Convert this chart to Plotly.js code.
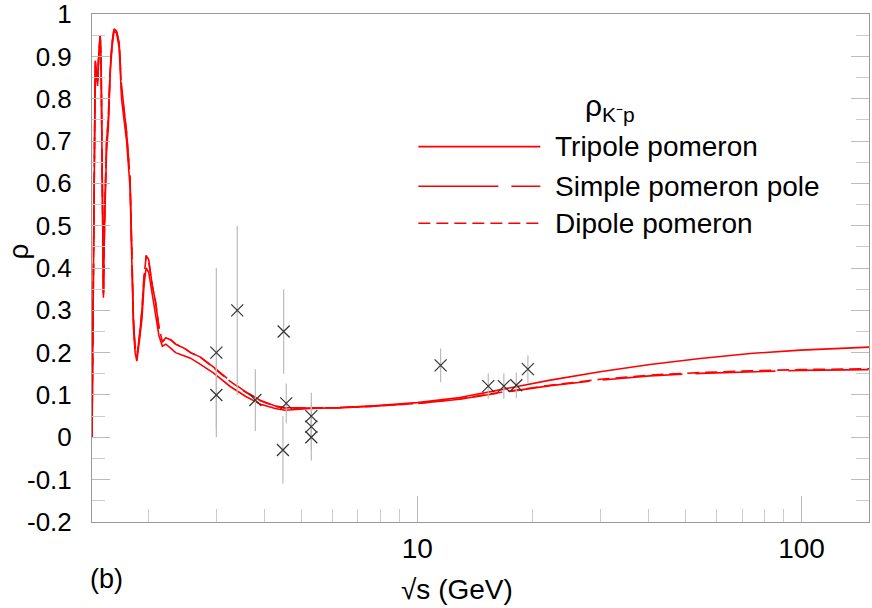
<!DOCTYPE html>
<html>
<head>
<meta charset="utf-8">
<script src="https://cdn.plot.ly/plotly-3.0.1.min.js"></script>
<style>
  body { margin: 0; background: #fff; }
  #plotArea { width: 872px; height: 608px; }
</style>
</head>
<body>
<div id="plotArea"></div>
<script>
// curves, sqrt(s) in GeV
var tripoleX = [1.424, 1.44, 1.452, 1.462, 1.472, 1.48, 1.495, 1.503, 1.512, 1.525, 1.535, 1.554, 1.57, 1.588, 1.605, 1.625, 1.65, 1.676, 1.7, 1.735, 1.752, 1.789, 1.807, 1.825, 1.844, 1.863, 1.893, 1.921, 1.945, 1.969, 2.0, 2.042, 2.084, 2.127, 2.171, 2.216, 2.285, 2.35, 2.48, 2.57, 2.72, 2.94, 3.26, 3.57, 3.91, 4.27, 4.53, 4.8, 5.27, 6.3, 7.55, 10, 12.9, 16.4, 22.2, 29.9, 40.3, 54.5, 73.6, 99.4, 150];
var tripoleY = [0.0, 0.6, 0.88, 0.86, 0.83, 0.88, 0.95, 0.9, 0.6, 0.33, 0.5, 0.68, 0.73, 0.86, 0.92, 0.96, 0.955, 0.92, 0.8, 0.74, 0.7, 0.59, 0.42, 0.26, 0.2, 0.18, 0.23, 0.28, 0.36, 0.4, 0.39, 0.34, 0.3, 0.24, 0.215, 0.22, 0.21, 0.2, 0.192, 0.187, 0.173, 0.153, 0.12, 0.097, 0.078, 0.068, 0.064, 0.066, 0.068, 0.07, 0.074, 0.082, 0.094, 0.112, 0.135, 0.155, 0.172, 0.186, 0.198, 0.206, 0.213];

var poleX = [1.424, 1.44, 1.452, 1.462, 1.472, 1.48, 1.495, 1.503, 1.512, 1.525, 1.535, 1.554, 1.57, 1.588, 1.605, 1.625, 1.65, 1.676, 1.7, 1.735, 1.752, 1.789, 1.807, 1.825, 1.844, 1.863, 1.893, 1.921, 1.945, 1.969, 2.0, 2.042, 2.084, 2.127, 2.171, 2.216, 2.285, 2.35, 2.48, 2.57, 2.72, 2.94, 3.26, 3.57, 3.91, 4.27, 4.53, 4.8, 5.27, 6.3, 7.55, 10, 12.9, 16.4, 22.2, 29.9, 40.3, 54.5, 73.6, 99.4, 150];
var poleY = [0.0, 0.62, 0.89, 0.86, 0.84, 0.89, 0.95, 0.91, 0.62, 0.34, 0.52, 0.7, 0.75, 0.87, 0.93, 0.965, 0.96, 0.93, 0.83, 0.76, 0.72, 0.61, 0.44, 0.28, 0.21, 0.19, 0.24, 0.3, 0.38, 0.43, 0.42, 0.36, 0.32, 0.26, 0.225, 0.235, 0.23, 0.22, 0.21, 0.2, 0.19, 0.167, 0.133, 0.108, 0.087, 0.074, 0.07, 0.069, 0.069, 0.07, 0.073, 0.08, 0.09, 0.105, 0.122, 0.135, 0.145, 0.151, 0.155, 0.158, 0.16];

var dipoleX = [1.424, 1.44, 1.452, 1.462, 1.472, 1.48, 1.495, 1.503, 1.512, 1.525, 1.535, 1.554, 1.57, 1.588, 1.605, 1.625, 1.65, 1.676, 1.7, 1.735, 1.752, 1.789, 1.807, 1.825, 1.844, 1.863, 1.893, 1.921, 1.945, 1.969, 2.0, 2.042, 2.084, 2.127, 2.171, 2.216, 2.285, 2.35, 2.48, 2.57, 2.72, 2.94, 3.26, 3.57, 3.91, 4.27, 4.53, 4.8, 5.27, 6.3, 7.55, 10, 12.9, 16.4, 22.2, 29.9, 40.3, 54.5, 73.6, 99.4, 150];
var dipoleY = [0.0, 0.61, 0.89, 0.86, 0.84, 0.89, 0.95, 0.91, 0.61, 0.34, 0.51, 0.7, 0.75, 0.87, 0.93, 0.965, 0.96, 0.93, 0.82, 0.76, 0.72, 0.61, 0.44, 0.28, 0.21, 0.19, 0.24, 0.3, 0.38, 0.425, 0.415, 0.36, 0.32, 0.26, 0.225, 0.235, 0.23, 0.22, 0.21, 0.2, 0.19, 0.166, 0.132, 0.107, 0.086, 0.073, 0.069, 0.069, 0.069, 0.07, 0.073, 0.08, 0.091, 0.106, 0.123, 0.137, 0.147, 0.153, 0.157, 0.16, 0.162];

// measured rho(K-p) with errors
var dataX = [3.0, 3.0, 3.4, 3.79, 4.47, 4.49, 4.56, 5.3, 5.3, 5.3, 11.5, 15.3, 16.8, 18.1, 19.4];
var dataY = [0.2, 0.1, 0.3, 0.088, -0.03, 0.25, 0.08, 0.05, 0.025, 0.0, 0.17, 0.121, 0.121, 0.123, 0.161];
var dataErr = [0.2, 0.08, 0.2, 0.073, 0.08, 0.1, 0.047, 0.055, 0.055, 0.055, 0.04, 0.03, 0.03, 0.03, 0.033];

var yTicks = [-0.2, -0.1, 0, 0.1, 0.2, 0.3, 0.4, 0.5, 0.6, 0.7, 0.8, 0.9, 1];
var yLabels = ['-0.2', '-0.1', '0', '0.1', '0.2', '0.3', '0.4', '0.5', '0.6', '0.7', '0.8', '0.9', '1'];
var xTicks = [10, 100];
var xLabels = ['10', '100'];
var xMinor = [2, 3, 4, 5, 6, 7, 8, 9, 20, 30, 40, 50, 60, 70, 80, 90];

var seriesNames = ['Tripole pomeron', 'Simple pomeron pole', 'Dipole pomeron'];

var red = '#ff0000';
var longDash = '80px,13px';
var shortDash = '12px,6px';
var fontFam = 'Liberation Sans, Arial, sans-serif';

var traces = [
    {x: tripoleX, y: tripoleY, mode: 'lines', type: 'scatter', name: seriesNames[0],
     line: {color: red, width: 1.6}},
    {x: poleX, y: poleY, mode: 'lines', type: 'scatter', name: seriesNames[1],
     line: {color: red, width: 1.6, dash: longDash}},
    {x: dipoleX, y: dipoleY, mode: 'lines', type: 'scatter', name: seriesNames[2],
     line: {color: red, width: 1.6, dash: shortDash}},
    {x: dataX, y: dataY, mode: 'markers', type: 'scatter', name: 'data',
     marker: {symbol: 'x-thin', size: 12, color: '#333', line: {color: '#333', width: 1.2}},
     error_y: {type: 'data', array: dataErr, visible: true, color: '#bbb', thickness: 1.2, width: 0}}
];

// hand-drawn legend, like the original figure
var legY = [0.739, 0.661, 0.588];
var legDash = ['solid', longDash, shortDash];
var shapes = [];
var annotations = [];
for (var i = 0; i < 3; i++) {
    shapes.push({type: 'line', xref: 'paper', yref: 'paper', x0: 0.42, x1: 0.577, y0: legY[i], y1: legY[i],
                 line: {color: red, width: 1.6, dash: legDash[i]}});
    annotations.push({xref: 'paper', yref: 'paper', x: 0.593, y: legY[i], xanchor: 'left', yanchor: 'middle',
                      text: seriesNames[i], showarrow: false, font: {size: 28, color: '#000', family: fontFam}});
}
annotations.push({xref: 'paper', yref: 'paper', x: 0.632, y: 0.815, xanchor: 'left', yanchor: 'middle',
                  text: 'ρ<sub>K⁻p</sub>', showarrow: false, font: {size: 30, color: '#000', family: fontFam}});
annotations.push({xref: 'paper', yref: 'paper', x: 0.47, y: -0.133, xanchor: 'center', yanchor: 'middle',
                  text: '√s (GeV)', showarrow: false, font: {size: 28, color: '#000', family: fontFam}});
annotations.push({xref: 'paper', yref: 'paper', x: -0.005, y: -0.112, xanchor: 'left', yanchor: 'middle',
                  text: '(b)', showarrow: false, font: {size: 27, color: '#000', family: fontFam}});
annotations.push({xref: 'paper', yref: 'paper', x: -0.095, y: 0.533, xanchor: 'center', yanchor: 'middle',
                  text: 'ρ', textangle: -90, showarrow: false, font: {size: 28, color: '#000', family: fontFam}});

var layout = {
    width: 872, height: 608,
    margin: {l: 92, r: 3, t: 14, b: 86},
    paper_bgcolor: '#fff', plot_bgcolor: '#fff',
    showlegend: false,
    font: {family: fontFam, size: 27, color: '#000'},
    xaxis: {
        type: 'log', range: [Math.log10(1.424), Math.log10(149.8)],
        tickmode: 'array', tickvals: xTicks, ticktext: xLabels,
        ticks: 'inside', ticklen: 26, tickcolor: '#bbb', tickwidth: 1,
        tickfont: {size: 28}, ticklabeloverflow: 'allow',
        minor: {tickmode: 'array', tickvals: xMinor, ticks: 'inside', ticklen: 13, tickcolor: '#ccc', tickwidth: 1, showgrid: false},
        showline: true, linecolor: '#999', linewidth: 1, mirror: true,
        showgrid: false, zeroline: false, ticklabelstandoff: 1
    },
    yaxis: {
        range: [-0.2002, 1.0002],
        tickmode: 'array', tickvals: yTicks, ticktext: yLabels,
        ticks: 'inside', ticklen: 18, tickcolor: '#bbb', tickwidth: 1,
        tickfont: {size: 26}, ticklabeloverflow: 'allow',
        minor: {dtick: 0.05, tick0: 0, ticks: 'inside', ticklen: 13, tickcolor: '#ccc', tickwidth: 1, showgrid: false},
        showline: true, linecolor: '#999', linewidth: 1, mirror: 'allticks',
        showgrid: false, zeroline: false, ticklabelstandoff: 14
    },
    shapes: shapes,
    annotations: annotations
};

Plotly.newPlot('plotArea', traces, layout, {staticPlot: true});
</script>
</body>
</html>
